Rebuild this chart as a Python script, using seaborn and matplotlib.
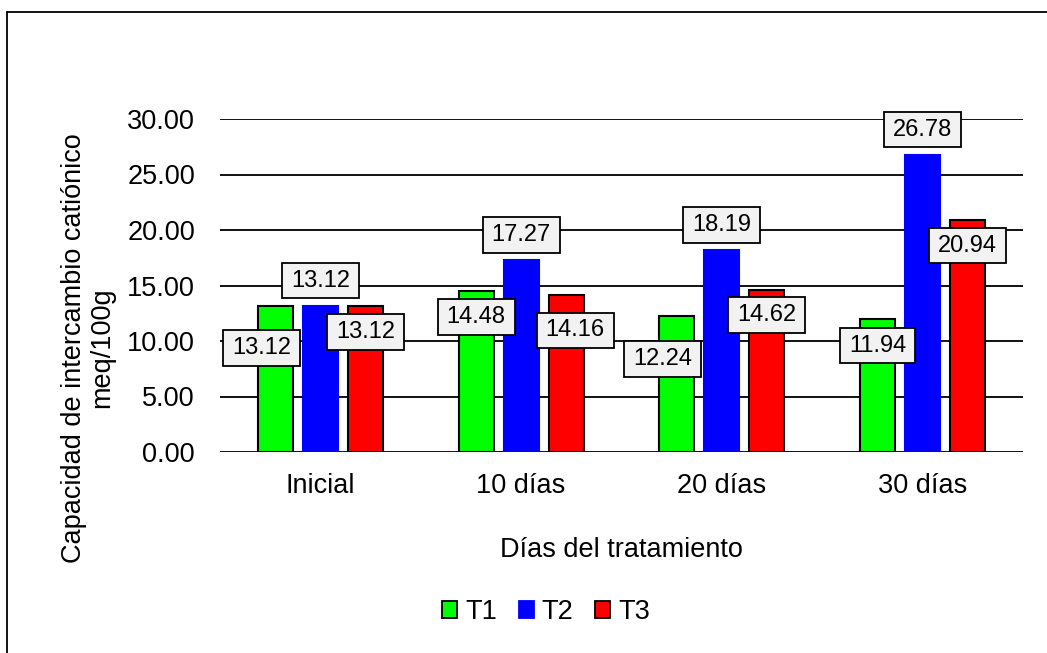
import matplotlib
matplotlib.use("Agg")
import matplotlib.pyplot as plt
from matplotlib.lines import Line2D
from matplotlib.patches import Patch
from matplotlib.path import Path
import pandas as pd
import seaborn as sns

# --- data -------------------------------------------------------------
categories = ["Inicial", "10 días", "20 días", "30 días"]
series = ["T1", "T2", "T3"]
t1 = [13.12, 14.48, 12.24, 11.94]
t2 = [13.12, 17.27, 18.19, 26.78]
t3 = [13.12, 14.16, 14.62, 20.94]
y_ticks = [0, 5, 10, 15, 20, 25, 30]

# --- styling ----------------------------------------------------------
colors = {"T1": "#00FF00", "T2": "#0000FF", "T3": "#FF0000"}
edge_colors = {"T1": "black", "T2": "#0000FF", "T3": "black"}
# label placement (x shift in category units, y shift in data units)
label_offsets = {
    "T1": [(-0.07, -3.75), (0.0, -2.32), (-0.072, -3.86), (0.0, -2.35)],
    "T2": [(0.0, 2.33), (0.0, 2.28), (0.0, 2.26), (0.0, 2.27)],
    "T3": [(0.0, -2.31), (0.045, -3.21), (0.0, -2.28), (0.0, -2.34)],
}

sns.set_style("white")
plt.rcParams["font.family"] = ["Liberation Sans", "DejaVu Sans"]
plt.rcParams["text.color"] = "black"
plt.rcParams["xtick.color"] = "black"
plt.rcParams["ytick.color"] = "black"
plt.rcParams["xtick.labelcolor"] = "black"
plt.rcParams["ytick.labelcolor"] = "black"
FS = 19.5        # axis text
FS_LABEL = 17    # value labels

df = pd.DataFrame({
    "dia": categories * 3,
    "serie": ["T1"] * 4 + ["T2"] * 4 + ["T3"] * 4,
    "valor": t1 + t2 + t3,
})

fig = plt.figure(figsize=(10.47, 6.53), dpi=100)
ax = fig.add_axes([220 / 1047, 1 - 452 / 653, 803 / 1047, 333 / 653])

sns.barplot(data=df, x="dia", y="valor", hue="serie", order=categories,
            hue_order=series, palette=colors, width=0.673, gap=0.22,
            legend=False, ax=ax, saturation=1)

for name, cont in zip(series, ax.containers):
    for p in cont.patches:
        p.set_edgecolor(edge_colors[name])
        p.set_linewidth(1.5)


def label_box(x0, y0, width, height, mutation_size):
    padx = 0.38 * mutation_size
    pady = 0.28 * mutation_size
    x0, y0 = x0 - padx, y0 - pady
    w, h = width + 2 * padx, height + 2 * pady
    return Path([(x0, y0), (x0 + w, y0), (x0 + w, y0 + h), (x0, y0 + h),
                 (x0, y0)], closed=True)


values = {"T1": t1, "T2": t2, "T3": t3}
for name, cont in zip(series, ax.containers):
    for i, p in enumerate(cont.patches):
        v = values[name][i]
        dx, dy = label_offsets[name][i]
        xc = p.get_x() + p.get_width() / 2 + dx
        ax.text(xc, v + dy, f"{v:.2f}", ha="center", va="center",
                fontsize=FS_LABEL, color="black", zorder=5,
                bbox=dict(boxstyle=label_box, facecolor="#F2F2F2",
                          edgecolor="black", linewidth=1.3))

ax.set_xlim(-0.5, 3.5)
ax.set_ylim(0, 30)
ax.set_yticks(y_ticks)
ax.set_yticklabels([f"{v:.2f}" for v in y_ticks])
ax.tick_params(axis="y", length=0, pad=18, labelsize=FS, labelcolor="black")
ax.tick_params(axis="x", length=0, pad=15, labelsize=FS, labelcolor="black")
ax.yaxis.grid(True, color="#111111", linewidth=1.4)
ax.xaxis.grid(False)
ax.set_axisbelow(True)
for s in ax.spines.values():
    s.set_visible(False)
ax.set_xlabel("")
ax.set_ylabel("")

fig.text(621 / 1047, 1 - 550 / 653, "Días del tratamiento", ha="center",
         va="center", fontsize=FS, color="black")
fig.text(88 / 1047, 1 - 348 / 653,
         "Capacidad de intercambio catiónico\nmeq/100g", rotation=90,
         ha="center", va="center", multialignment="center", fontsize=FS,
         linespacing=1.1, color="black")

handles = [Patch(facecolor=colors[s], edgecolor=edge_colors[s], linewidth=1.3)
           for s in series]
fig.legend(handles, series, loc="center", ncol=3, frameon=False,
           bbox_to_anchor=(546 / 1047, 1 - 612 / 653), fontsize=FS,
           handlelength=0.55, handleheight=0.55, handletextpad=0.3,
           columnspacing=0.8, labelcolor="black")

# chart frame
fig.add_artist(Line2D([7 / 1047, 7 / 1047], [0, 1 - 12 / 653],
                      transform=fig.transFigure, color="black", lw=1.3))
fig.add_artist(Line2D([7 / 1047, 1], [1 - 12 / 653, 1 - 12 / 653],
                      transform=fig.transFigure, color="black", lw=1.3))

fig.savefig("out.png", dpi=100, facecolor="white")
